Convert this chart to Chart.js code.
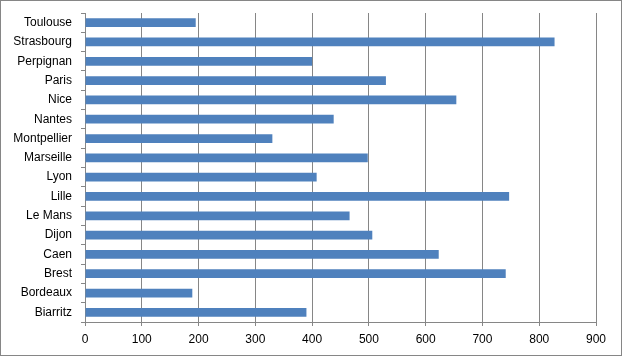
<!DOCTYPE html>
<html>
<head>
<meta charset="utf-8">
<script src="https://cdn.jsdelivr.net/npm/chart.js@4/dist/chart.umd.min.js"></script>
<style>
  html, body { margin: 0; padding: 0; background: #fff; }
  #wrap { width: 620px; height: 354px; border: 1px solid #868686; position: relative; }
  canvas { display: block; }
</style>
</head>
<body>
<div id="wrap"><canvas id="c" width="620" height="354"></canvas></div>
<script>
const cities = ["Toulouse", "Strasbourg", "Perpignan", "Paris", "Nice", "Nantes", "Montpellier", "Marseille", "Lyon", "Lille", "Le Mans", "Dijon", "Caen", "Brest", "Bordeaux", "Biarritz"];
const values = [195, 827, 400, 530, 654, 438, 330, 498, 408, 747, 466, 506, 623, 741, 189, 390];
const xTicks = [0, 100, 200, 300, 400, 500, 600, 700, 800, 900];

const gridColor = '#868686';
const font = { family: 'Liberation Sans, Arial, sans-serif', size: 12 };

new Chart(document.getElementById('c'), {
  type: 'bar',
  data: {
    labels: cities,
    datasets: [{
      data: values,
      backgroundColor: '#4f81bd',
      borderWidth: 0,
      barPercentage: 0.45,
      categoryPercentage: 1.0
    }]
  },
  options: {
    indexAxis: 'y',
    responsive: false,
    animation: false,
    layout: { padding: { top: 12, right: 25, left: 0, bottom: 0 } },
    plugins: { legend: { display: false }, tooltip: { enabled: false } },
    scales: {
      x: {
        min: xTicks[0],
        max: xTicks[xTicks.length - 1],
        afterBuildTicks: (axis) => { axis.ticks = xTicks.map(v => ({ value: v })); },
        ticks: { color: '#000', font: font, padding: 6, maxRotation: 0 },
        grid: { color: gridColor, lineWidth: 1, drawTicks: true, tickLength: 4 },
        border: { display: true, color: gridColor, width: 1 },
        afterFit: (s) => { s.height = 33; s.paddingLeft = 0; s.paddingRight = 0; }
      },
      y: {
        ticks: { color: '#000', font: font, padding: 9 },
        grid: { offset: true, drawOnChartArea: false, drawTicks: true, tickLength: 4, color: gridColor, lineWidth: 1 },
        border: { display: true, color: gridColor, width: 1 },
        afterFit: (s) => { s.width = 84; s.paddingTop = 0; s.paddingBottom = 0; }
      }
    }
  }
});
</script>
</body>
</html>
